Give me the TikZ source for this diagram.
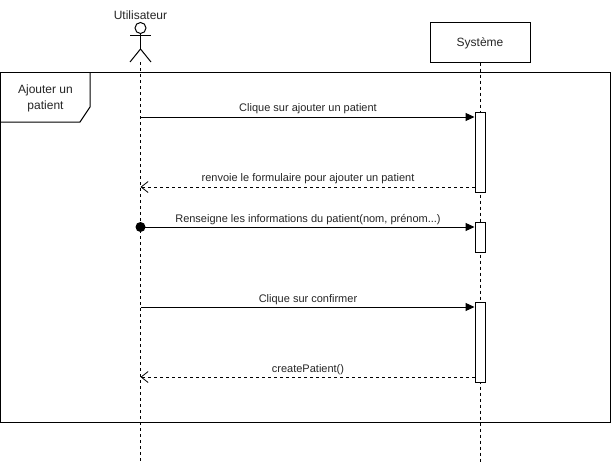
\documentclass[tikz,border=0pt]{standalone}
\usepackage{fontspec}
\setmainfont{Liberation Sans}
\usetikzlibrary{arrows.meta}
\tikzset{
  lifeline/.style={line width=1pt, dash pattern=on 3pt off 3pt},
  callmsg/.style={line width=1pt, -{Triangle[length=9pt,width=8pt]}},
  replymsg/.style={line width=1pt, dash pattern=on 3pt off 3pt, -{Straight Barb[length=7pt,width=11pt,line width=0.8pt]}},
  activation/.style={draw, line width=1pt, fill=white, minimum width=10pt, inner sep=0pt},
  msglabel/.style={font=\fontsize{11}{13}\selectfont, inner sep=0pt, text=black!85}
}
\begin{document}
\begin{tikzpicture}[x=1pt, y=-1pt]
    \useasboundingbox (0, 0) rectangle (611, 463);
    \fill[white] (0, 0) rectangle (611, 463);

    % Frame
    \node[draw, line width=1pt, minimum width=610pt, minimum height=350pt, inner sep=0pt] (frame) at (305, 247) {};
    \draw[line width=1pt] (0, 122) -- (80, 122) -- (90, 107) -- (90, 72);
    \node[font=\fontsize{12}{16}\selectfont, align=center, inner sep=0pt, text=black!85] (frametitle) at (45.5, 98.5) {Ajouter un\\patient};

    % Actor
    \node[font=\fontsize{12}{14}\selectfont, inner sep=0pt, text=black!85] (user) at (140.5, 15) {Utilisateur};
    \draw[line width=1pt] (140.5, 28) circle (5.5);
    \draw[line width=1pt] (140.5, 33.5) -- (140.5, 49);
    \draw[line width=1pt] (130, 35) -- (151, 35);
    \draw[line width=1pt] (130, 62) -- (140.5, 49) -- (151, 62);
    \coordinate (usertop) at (140.5, 62);
    \coordinate (userend) at (140.5, 462);

    % System box
    \node[draw, line width=1pt, minimum width=100pt, minimum height=40pt, inner sep=0pt] (sys) at (480, 42) {};
    \node[font=\fontsize{12}{14}\selectfont, inner sep=0pt, text=black!85] (systitle) at (480, 43) {Système};
    \coordinate (sysend) at (480, 462);

    % Lifelines
    \draw[lifeline] (usertop) -- (userend);
    \draw[lifeline] (sys.south) -- (sysend);

    % Activation bars
    \node[activation, minimum height=80pt] (act1) at (480, 152) {};
    \node[activation, minimum height=30pt] (act2) at (480, 237) {};
    \node[activation, minimum height=80pt] (act3) at (480, 342) {};

    % Points on the user lifeline
    \coordinate (u1) at (140.5, 117);
    \coordinate (u2) at (140.5, 187);
    \coordinate (u3) at (140.5, 227);
    \coordinate (u4) at (140.5, 307);
    \coordinate (u5) at (140.5, 377);

    % Messages
    \draw[callmsg] (u1) -- (u1 -| act1.west);
    \node[msglabel] (m1) at (308, 109) {Clique sur ajouter un patient};

    \draw[replymsg] (u2 -| act1.west) -- (u2);
    \node[msglabel] (m2) at (308, 179) {renvoie le formulaire pour ajouter un patient};

    \fill (u3) circle (5);
    \draw[callmsg] (u3) -- (u3 -| act2.west);
    \node[msglabel] (m3) at (308, 220) {Renseigne les informations du patient(nom, prénom...)};

    \draw[callmsg] (u4) -- (u4 -| act3.west);
    \node[msglabel] (m4) at (308, 300) {Clique sur confirmer};

    \draw[replymsg] (u5 -| act3.west) -- (u5);
    \node[msglabel] (m5) at (308, 370) {createPatient()};
\end{tikzpicture}
\end{document}
